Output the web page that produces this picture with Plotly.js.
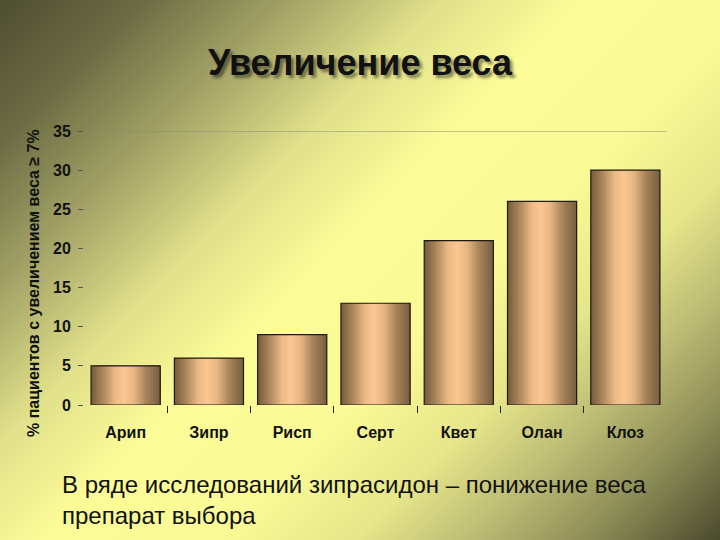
<!DOCTYPE html>
<html>
<head>
<meta charset="utf-8">
<script src="https://cdn.plot.ly/plotly-3.0.1.min.js"></script>
<style>
  html, body { margin: 0; padding: 0; }
  body {
    width: 720px; height: 540px; overflow: hidden;
    background: linear-gradient(135deg, #4e4e31 0%, #6a6a43 11%, #a2a266 23%, #e0e08a 35%, #fbfb98 46%, #fafa96 60%, #e6e68a 71%, #b8b872 81%, #8a8a55 90%, #4a4a2e 100%);
  }
  #chart { width: 720px; height: 540px; }
</style>
</head>
<body>
<div id="chart"></div>
<script>
// ---- data ----
const categories = ["Арип", "Зипр", "Рисп", "Серт", "Квет", "Олан", "Клоз"];
const values = [5, 6, 9, 13, 21, 26, 30];
const yTicks = [0, 5, 10, 15, 20, 25, 30, 35];
const yMax = 35;
const chartTitle = "Увеличение веса";
const yTitle = "% пациентов с увеличением веса ≥ 7%";
const footnote = "В ряде исследований зипрасидон – понижение веса<br>препарат выбора";

// category positions and the separators between categories
const xPos = categories.map((_, i) => i);
const xSeparators = categories.slice(1).map((_, i) => i + 0.5);

// ---- bar shading (horizontal gradient built from overlaid strips) ----
const stops = [
  [0.00, [116, 90, 60]],
  [0.15, [164, 128, 88]],
  [0.35, [236, 186, 134]],
  [0.48, [250, 198, 146]],
  [0.62, [232, 182, 130]],
  [0.80, [166, 130, 90]],
  [1.00, [118, 94, 64]]
];
function colorAt(t) {
  for (let k = 0; k < stops.length - 1; k++) {
    const [t0, c0] = stops[k], [t1, c1] = stops[k + 1];
    if (t >= t0 && t <= t1) {
      const f = (t - t0) / (t1 - t0);
      const c = c0.map((v, j) => Math.round(v + (c1[j] - v) * f));
      return `rgb(${c[0]},${c[1]},${c[2]})`;
    }
  }
  return 'rgb(118,94,64)';
}
const barW = 0.83;
const N = 30;
const traces = [];
for (let i = 0; i < N; i++) {
  const start = -barW / 2 + i * barW / N;
  traces.push({
    type: 'bar', x: xPos, y: values,
    offset: start, width: barW - i * barW / N,
    marker: { color: colorAt((i + 0.5) / N), line: { width: 0 } },
    hoverinfo: 'skip', showlegend: false
  });
}
traces.push({
  type: 'bar', x: xPos, y: values,
  offset: -barW / 2, width: barW,
  marker: { color: 'rgba(0,0,0,0)', line: { color: '#1e1a12', width: 1.2 } },
  hoverinfo: 'skip', showlegend: false
});

const layout = {
  width: 720, height: 540,
  paper_bgcolor: 'rgba(0,0,0,0)', plot_bgcolor: 'rgba(0,0,0,0)',
  margin: { l: 84, r: 53, t: 131, b: 135 },
  barmode: 'overlay',
  font: { family: 'Arial, "Liberation Sans", sans-serif', color: '#111' },
  title: {
    text: chartTitle, xref: 'container', yref: 'container',
    x: 0.5, y: 1 - 62 / 540, xanchor: 'center', yanchor: 'middle',
    font: { size: 36, weight: 'bold', color: '#111', shadow: '3px 3px 3px rgba(0,0,0,0.45)' }
  },
  xaxis: {
    type: 'linear', range: [-0.5, categories.length - 0.5],
    tickmode: 'array', tickvals: xPos, ticktext: categories,
    showgrid: false, zeroline: false, showline: false,
    ticks: '', ticklabelstandoff: 16,
    tickfont: { size: 16, weight: 'bold', color: '#111' },
    minor: { tickmode: 'array', tickvals: xSeparators, ticks: 'outside', ticklen: 7, tickcolor: '#222', tickwidth: 1, showgrid: false }
  },
  yaxis: {
    range: [0, yMax], tickvals: yTicks, showgrid: false, zeroline: false, showline: false,
    ticks: 'outside', ticklen: 5, tickcolor: '#555', tickwidth: 1,
    ticklabelstandoff: 4,
    tickfont: { size: 16, weight: 'bold', color: '#111' }
  },
  shapes: [{
    type: 'line', xref: 'paper', yref: 'y', x0: 0, x1: 1, y0: yMax, y1: yMax,
    line: { color: '#8c8c6c', width: 1 }, layer: 'below'
  }],
  annotations: [
    {
      text: yTitle, textangle: -90, xref: 'paper', yref: 'paper',
      x: (33 - 84) / 583, y: (405 - 283) / 274, xanchor: 'center', yanchor: 'middle',
      showarrow: false, font: { size: 16, weight: 'bold', color: '#111' }
    },
    {
      text: footnote, xref: 'paper', yref: 'paper', align: 'left',
      x: (60 - 84) / 583, y: (405 - 469) / 274, xanchor: 'left', yanchor: 'top',
      showarrow: false, font: { size: 24, color: '#111' }
    }
  ]
};

Plotly.newPlot('chart', traces, layout, { displayModeBar: false, staticPlot: true });
</script>
</body>
</html>
